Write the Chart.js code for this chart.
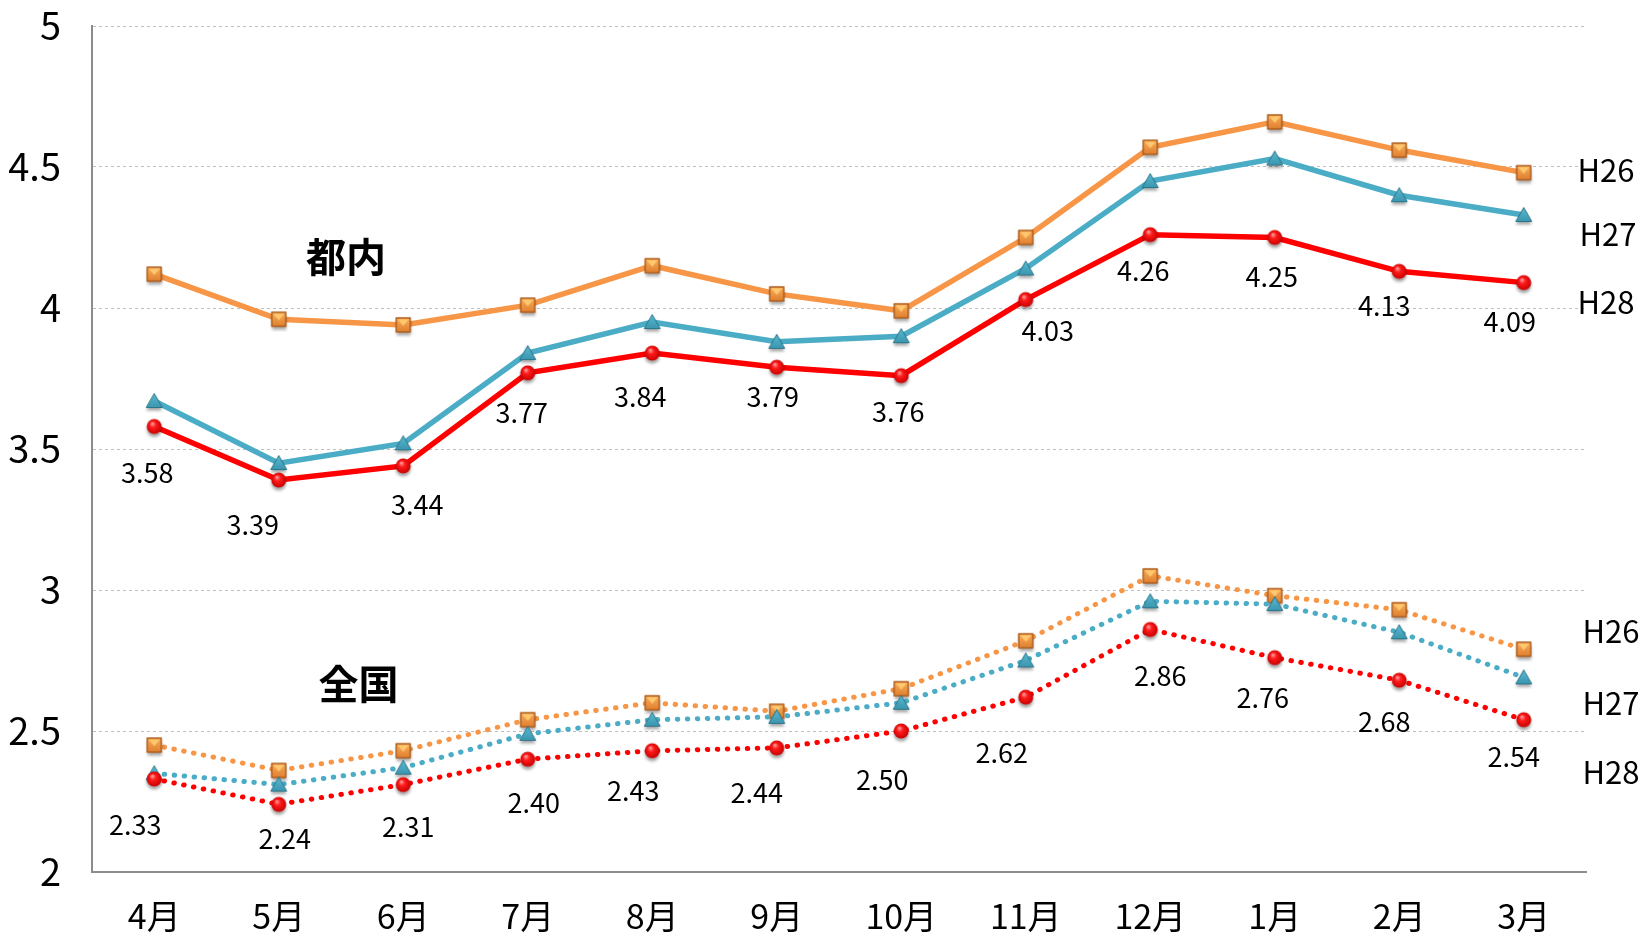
<!DOCTYPE html>
<html lang="ja">
<head>
<meta charset="utf-8">
<title>都内・全国 月別推移</title>
<script src="https://cdn.jsdelivr.net/npm/chart.js@4.4.1/dist/chart.umd.min.js"></script>
<style>
  html, body { margin: 0; padding: 0; background: #fff; }
  #wrap { width: 1643px; height: 936px; }
</style>
</head>
<body>
<div id="wrap"><canvas id="rateChart" width="1643" height="936"></canvas></div>
<script>
// 月別推移（都内・全国, H26〜H28）

const months = ['4月', '5月', '6月', '7月', '8月', '9月', '10月', '11月', '12月', '1月', '2月', '3月'];
const seriesNames = ['H26', 'H27', 'H28'];

// 都内
const tonaiH26 = [4.12, 3.96, 3.94, 4.01, 4.15, 4.05, 3.99, 4.25, 4.57, 4.66, 4.56, 4.48];
const tonaiH27 = [3.67, 3.45, 3.52, 3.84, 3.95, 3.88, 3.90, 4.14, 4.45, 4.53, 4.40, 4.33];
const tonaiH28 = [3.58, 3.39, 3.44, 3.77, 3.84, 3.79, 3.76, 4.03, 4.26, 4.25, 4.13, 4.09];

// 全国
const zenH26 = [2.45, 2.36, 2.43, 2.54, 2.60, 2.57, 2.65, 2.82, 3.05, 2.98, 2.93, 2.79];
const zenH27 = [2.35, 2.31, 2.37, 2.49, 2.54, 2.55, 2.60, 2.75, 2.96, 2.95, 2.85, 2.69];
const zenH28 = [2.33, 2.24, 2.31, 2.40, 2.43, 2.44, 2.50, 2.62, 2.86, 2.76, 2.68, 2.54];

// y軸
const yMin = 2, yMax = 5, yStep = 0.5;

const FONT = '"Noto Sans CJK JP", "Noto Sans", sans-serif';
const ORANGE = '#F79646', TEAL = '#4BACC6', RED = '#FF0000';

// ラベルの微調整（px, 点からのずれ）
const nudgeTonai = [[-7,46],[-26,45],[14,39],[-6,40],[-12,44],[-4,30],[-3,36],[22,31],[-7,36],[-3,39],[-15,34],[-14,39]];
const nudgeZen = [[-19,46],[6,34],[5,42],[6,44],[-19,40],[-20,45],[-19,49],[-24,56],[10,46],[-12,40],[-15,41],[-10,37]];

// マーカー画像
function squareMarker() {
  const c = document.createElement('canvas');
  c.width = 26; c.height = 26;
  const g = c.getContext('2d');
  g.shadowColor = 'rgba(0,0,0,0.35)'; g.shadowBlur = 3; g.shadowOffsetY = 3;
  g.fillStyle = '#DB7A2C';
  g.fillRect(5.5, 5.5, 15, 15);
  g.shadowColor = 'transparent';
  const grd = g.createLinearGradient(0, 5, 0, 20);
  grd.addColorStop(0, '#FAB25F');
  grd.addColorStop(1, '#E07F2E');
  g.fillStyle = grd;
  g.fillRect(6.5, 6.5, 13, 13);
  g.fillStyle = '#FFC86E';
  g.beginPath(); g.moveTo(7.5, 7.5); g.lineTo(18.5, 7.5); g.lineTo(13, 14); g.closePath(); g.fill();
  g.strokeStyle = '#9A5219'; g.lineWidth = 1;
  g.strokeRect(6, 6, 14, 14);
  return c;
}

function triangleMarker() {
  const c = document.createElement('canvas');
  c.width = 26; c.height = 26;
  const g = c.getContext('2d');
  g.shadowColor = 'rgba(0,0,0,0.35)'; g.shadowBlur = 3; g.shadowOffsetY = 3;
  const grd = g.createLinearGradient(0, 5, 0, 19);
  grd.addColorStop(0, '#5BBAD3');
  grd.addColorStop(1, '#3C97B0');
  g.fillStyle = grd;
  g.beginPath(); g.moveTo(13, 5.5); g.lineTo(21, 19.5); g.lineTo(5, 19.5); g.closePath(); g.fill();
  g.shadowColor = 'transparent';
  g.strokeStyle = '#2B7488'; g.lineWidth = 1;
  g.stroke();
  return c;
}

function circleMarker() {
  const c = document.createElement('canvas');
  c.width = 26; c.height = 26;
  const g = c.getContext('2d');
  g.shadowColor = 'rgba(0,0,0,0.35)'; g.shadowBlur = 3; g.shadowOffsetY = 3;
  const grd = g.createRadialGradient(11, 10, 0.5, 13, 13, 8);
  grd.addColorStop(0, '#FF9A9A');
  grd.addColorStop(0.35, '#FF1A1A');
  grd.addColorStop(1, '#C40000');
  g.fillStyle = grd;
  g.beginPath(); g.arc(13, 13, 7.5, 0, Math.PI * 2); g.fill();
  return c;
}

const markers = { H26: squareMarker(), H27: triangleMarker(), H28: circleMarker() };

function lineSet(data, color, name, dotted, nudge) {
  return {
    label: name,
    data: data,
    borderColor: color,
    backgroundColor: color,
    borderWidth: dotted ? 5 : 5.5,
    borderDash: dotted ? [0.5, 9.5] : [],
    borderCapStyle: dotted ? 'round' : 'butt',
    tension: 0,
    pointStyle: markers[name],
    pointRadius: 7,
    nudge: nudge
  };
}

// ラベル・注記の描画
const textPlugin = {
  id: 'textPlugin',
  afterDatasetsDraw(chart) {
    const ctx = chart.ctx;
    const xs = chart.scales.x, ys = chart.scales.y;
    ctx.save();
    ctx.fillStyle = '#000';
    ctx.textAlign = 'center';
    ctx.textBaseline = 'middle';

    ctx.font = '27px ' + FONT;
    chart.data.datasets.forEach((ds, di) => {
      if (!ds.nudge) return;
      const meta = chart.getDatasetMeta(di);
      meta.data.forEach((pt, i) => {
        ctx.fillText(ds.data[i].toFixed(2), pt.x + ds.nudge[i][0], pt.y + ds.nudge[i][1]);
      });
    });

    // 系列名（右側）
    const notes = [
      { t: seriesNames[0], v: 4.49, dx: 20 }, { t: seriesNames[1], v: 4.26, dx: 22 }, { t: seriesNames[2], v: 4.02, dx: 20 },
      { t: seriesNames[0], v: 2.855, dx: 25 }, { t: seriesNames[1], v: 2.60, dx: 25 }, { t: seriesNames[2], v: 2.355, dx: 25 }
    ];
    ctx.font = '31px ' + FONT;
    notes.forEach(n => ctx.fillText(n.t, chart.chartArea.right + n.dx, ys.getPixelForValue(n.v)));

    // グループ名
    ctx.font = 'bold 40px ' + FONT;
    ctx.fillText('都内', xs.getPixelForValue(1.54), ys.getPixelForValue(4.18));
    ctx.fillText('全国', xs.getPixelForValue(1.64), ys.getPixelForValue(2.667));
    ctx.restore();
  }
};

const ctx = document.getElementById('rateChart');
new Chart(ctx, {
  type: 'line',
  data: {
    labels: months,
    datasets: [
      lineSet(tonaiH28, RED, 'H28', false, nudgeTonai),
      lineSet(tonaiH27, TEAL, 'H27', false),
      lineSet(tonaiH26, ORANGE, 'H26', false),
      lineSet(zenH28, RED, 'H28', true, nudgeZen),
      lineSet(zenH27, TEAL, 'H27', true),
      lineSet(zenH26, ORANGE, 'H26', true)
    ]
  },
  options: {
    responsive: false,
    animation: false,
    devicePixelRatio: 1,
    layout: { padding: { left: 0, top: 26, right: 57, bottom: 0 } },
    plugins: { legend: { display: false }, tooltip: { enabled: false } },
    scales: {
      x: {
        offset: true,
        grid: { display: true, drawOnChartArea: false, drawTicks: false },
        border: { display: true, color: '#8C8C8C', width: 2 },
        ticks: { color: '#000', padding: 24, maxRotation: 0, font: { family: FONT, size: 34 } },
        afterFit: s => { s.height = 64; }
      },
      y: {
        min: yMin,
        max: yMax,
        grid: { color: '#BFBFBF', lineWidth: 1, drawTicks: false },
        border: { display: true, color: '#8C8C8C', width: 2, dash: [3, 3] },
        ticks: {
          stepSize: yStep, color: '#000', padding: 31,
          font: { family: FONT, size: 38 },
          callback: v => String(Number(v.toFixed(1)))
        },
        afterFit: s => { s.width = 92; s.paddingTop = 0; s.paddingBottom = 0; }
      }
    }
  },
  plugins: [textPlugin]
});
</script>
</body>
</html>
